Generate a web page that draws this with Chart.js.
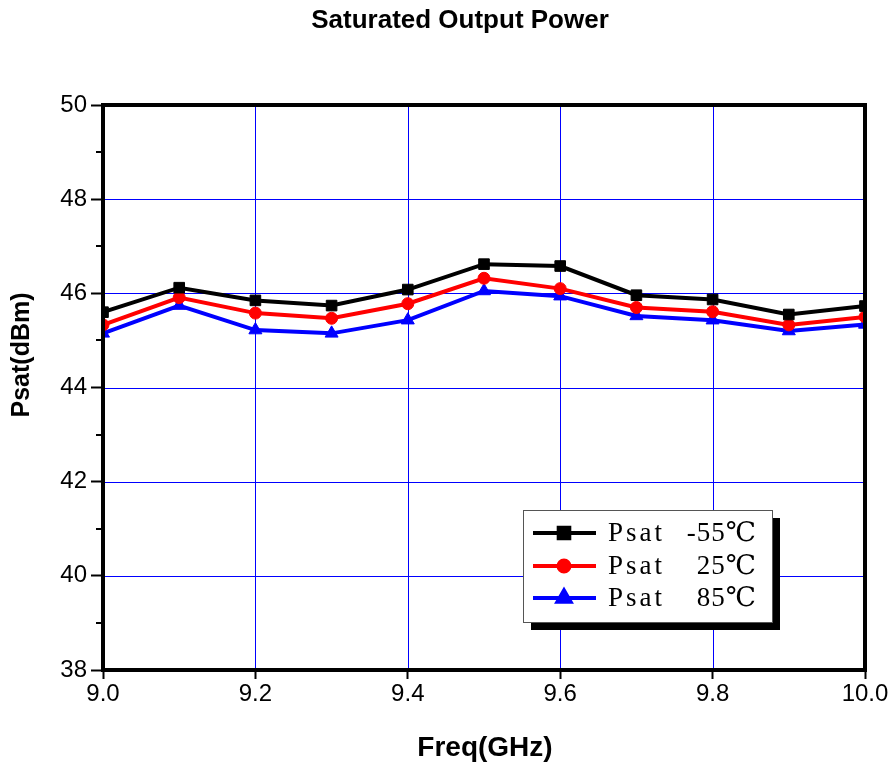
<!DOCTYPE html>
<html>
<head>
<meta charset="utf-8">
<script src="https://cdn.jsdelivr.net/npm/chart.js@4/dist/chart.umd.min.js"></script>
<style>
  html, body { margin: 0; padding: 0; background: #fff; }
  canvas { display: block; }
</style>
</head>
<body>
<canvas id="c" width="893" height="767"></canvas>
<script>
// ---- data ----
const freqs = [9.0, 9.1, 9.2, 9.3, 9.4, 9.5, 9.6, 9.7, 9.8, 9.9, 10.0];
const psatM55 = [45.60, 46.12, 45.85, 45.74, 46.08, 46.62, 46.58, 45.96, 45.87, 45.55, 45.73];
const psat25  = [45.33, 45.91, 45.58, 45.47, 45.78, 46.32, 46.10, 45.70, 45.61, 45.33, 45.50];
const psat85  = [45.15, 45.74, 45.22, 45.15, 45.43, 46.05, 45.94, 45.52, 45.43, 45.20, 45.34];
const seriesNames = ["Psat -55℃", "Psat 25℃", "Psat 85℃"];
const xGridValues = [9.2, 9.4, 9.6, 9.8];
const yGridValues = [40, 42, 44, 46, 48];
const yMinorTicks = [39, 41, 43, 45, 47, 49];
const chartTitle = "Saturated Output Power";
const xTitle = "Freq(GHz)";
const yTitle = "Psat(dBm)";

const toPts = arr => freqs.map((f, i) => ({ x: f, y: arr[i] }));

const SANS = "'Liberation Sans', Arial, sans-serif";
const SERIF = "'Liberation Serif', 'Times New Roman', 'DejaVu Serif', serif";

const gridPlugin = {
  id: 'crispGrid',
  beforeDatasetsDraw(chart) {
    const ctx = chart.ctx;
    const a = chart.chartArea;
    const xs = chart.scales.x, ys = chart.scales.y;
    ctx.save();
    ctx.fillStyle = '#0000ff';
    xGridValues.forEach(v => {
      const px = Math.round(xs.getPixelForValue(v));
      ctx.fillRect(px, a.top, 1, a.bottom - a.top);
    });
    yGridValues.forEach(v => {
      const py = Math.round(ys.getPixelForValue(v));
      ctx.fillRect(a.left, py, a.right - a.left, 1);
    });
    ctx.restore();
  }
};

const decor = {
  id: 'decor',
  afterDraw(chart) {
    const ctx = chart.ctx;
    const a = chart.chartArea;
    const ys = chart.scales.y;
    ctx.save();
    // minor ticks on y
    ctx.strokeStyle = '#000';
    ctx.lineWidth = 2;
    yMinorTicks.forEach(v => {
      const py = Math.round(ys.getPixelForValue(v));
      ctx.beginPath();
      ctx.moveTo(a.left, py);
      ctx.lineTo(a.left - 7, py);
      ctx.stroke();
      ctx.beginPath();
      ctx.moveTo(a.right, py);
      ctx.lineTo(a.right + 2, py);
      ctx.stroke();
    });
    // frame
    ctx.lineWidth = 4;
    ctx.strokeStyle = '#000';
    ctx.strokeRect(a.left, a.top, a.right - a.left, a.bottom - a.top);

    // titles
    ctx.fillStyle = '#000';
    ctx.textAlign = 'center';
    ctx.textBaseline = 'middle';
    ctx.font = "bold 26px " + SANS;
    ctx.fillText(chartTitle, 460, 21);
    ctx.font = "bold 28px " + SANS;
    ctx.fillText(xTitle, 485, 748);
    ctx.save();
    ctx.translate(22, 355);
    ctx.rotate(-Math.PI / 2);
    ctx.font = "bold 25px " + SANS;
    ctx.fillText(yTitle, 0, 0);
    ctx.restore();

    // legend
    const lx = 523, ly = 510, lw = 249, lh = 112;
    ctx.fillStyle = '#000';
    ctx.fillRect(lx + 8, ly + 8, lw, lh);
    ctx.fillStyle = '#fff';
    ctx.fillRect(lx, ly, lw, lh);
    ctx.lineWidth = 1;
    ctx.strokeStyle = '#555';
    ctx.strokeRect(lx + 0.5, ly + 0.5, lw, lh);
    const rows = [533, 566, 598];
    chart.data.datasets.forEach((ds, i) => {
      const y = rows[i];
      ctx.strokeStyle = ds.borderColor;
      ctx.lineWidth = 4;
      ctx.beginPath();
      ctx.moveTo(533, y);
      ctx.lineTo(596, y);
      ctx.stroke();
      ctx.fillStyle = ds.backgroundColor;
      ctx.strokeStyle = ds.borderColor;
      Chart.helpers.drawPoint(ctx, {
        pointStyle: ds.pointStyle,
        radius: ds.pointStyle === 'circle' ? 5.5 : 7.5,
        rotation: 0,
        borderWidth: 1
      }, 564, y);
      const parts = ds.label.split(' ');
      ctx.fillStyle = '#000';
      ctx.font = "27px " + SERIF;
      ctx.textBaseline = 'middle';
      ctx.textAlign = 'left';
      try { ctx.letterSpacing = '3px'; } catch (e) {}
      ctx.fillText(parts[0], 608, y + 1);
      try { ctx.letterSpacing = '1px'; } catch (e) {}
      ctx.textAlign = 'right';
      ctx.fillText(parts[1], 757, y + 1);
      try { ctx.letterSpacing = '0px'; } catch (e) {}
    });
    ctx.restore();
  }
};

const mkDs = (label, data, color, style, r) => ({
  label,
  data: toPts(data),
  borderColor: color,
  backgroundColor: color,
  borderWidth: 4,
  pointStyle: style,
  pointRadius: r,
  pointHoverRadius: r,
  pointBorderWidth: 1,
  tension: 0
});

new Chart(document.getElementById('c'), {
  type: 'line',
  data: {
    datasets: [
      mkDs(seriesNames[0], psatM55, '#000000', 'rect', 7.5),
      mkDs(seriesNames[1], psat25, '#ff0000', 'circle', 6),
      mkDs(seriesNames[2], psat85, '#0000ff', 'triangle', 7.5)
    ]
  },
  options: {
    responsive: false,
    animation: false,
    devicePixelRatio: 1,
    layout: { padding: { top: 105, right: 28, left: 0, bottom: 0 } },
    plugins: {
      legend: { display: false },
      title: { display: false },
      tooltip: { enabled: false }
    },
    scales: {
      x: {
        type: 'linear',
        min: 9.0,
        max: 10.0,
        afterFit: s => { s.height = 97; },
        border: { display: false },
        grid: {
          drawOnChartArea: false,
          drawTicks: true,
          tickLength: 9,
          tickColor: '#000',
          tickWidth: 2
        },
        ticks: {
          stepSize: 0.2,
          padding: 1,
          color: '#000',
          font: { family: SANS, size: 24 },
          maxRotation: 0,
          callback: v => Number(v).toFixed(1)
        }
      },
      y: {
        min: 38,
        max: 50,
        afterFit: s => { s.width = 103; },
        border: { display: false },
        grid: {
          drawOnChartArea: false,
          drawTicks: true,
          tickLength: 12,
          tickColor: '#000',
          tickWidth: 2
        },
        ticks: {
          stepSize: 2,
          padding: 4,
          color: '#000',
          font: { family: SANS, size: 24 },
          callback: v => String(v)
        }
      }
    }
  },
  plugins: [gridPlugin, decor]
});
</script>
</body>
</html>
